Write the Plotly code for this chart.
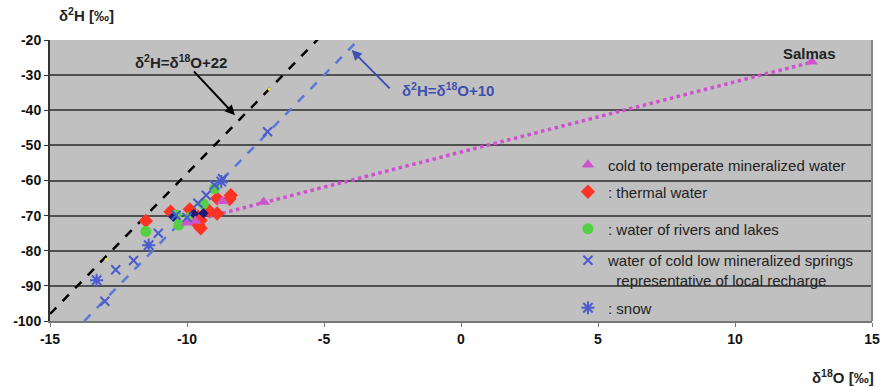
import plotly.graph_objects as go

# Isotope data: delta-18O (x) and delta-2H (y), per mille
cold_mineral_x = [12.8, -7.2, -8.7, -10.0, -9.7]
cold_mineral_y = [-26.2, -66.1, -65.9, -72.0, -71.5]

thermal_x = [-11.5, -10.6, -9.9, -8.9, -8.4, -8.45, -9.2, -8.9, -9.5, -9.5, -9.6, -9.6]
thermal_y = [-71.5, -68.9, -68.2, -65.1, -64.2, -65.3, -68.6, -69.4, -71.3, -73.6, -72.6, -70.3]

rivers_x = [-11.5, -10.4, -10.3, -9.4, -9.0, -9.9]
rivers_y = [-74.5, -69.8, -72.7, -66.7, -62.3, -70.5]

springs_x = [-7.06, -8.7, -9.0, -9.3, -9.6, -10.4, -11.05, -11.95, -12.6, -13.0, -10.0]
springs_y = [-46.1, -59.5, -61.3, -64.2, -66.5, -69.9, -75.0, -82.8, -85.4, -94.4, -70.5]

snow_x = [-13.3, -11.4, -8.75]
snow_y = [-88.4, -78.4, -60.3]

other_x = [-9.4, -10.5, -9.75]
other_y = [-69.3, -70.3, -69.5]

minor_x = [-7.0, -12.95]
minor_y = [-34.0, -82.5]

x_ticks = [-15, -10, -5, 0, 5, 10, 15]
y_ticks = [-100, -90, -80, -70, -60, -50, -40, -30, -20]

# Reference lines: slope 8 with intercepts 22 and 10
lmwl_x = [-15.0, -4.5]
lmwl_y = [8 * v + 22 for v in lmwl_x]
gmwl_x = [-13.75, -3.0]
gmwl_y = [8 * v + 10 for v in gmwl_x]

# Mixing trend towards Salmas
trend_x = [-9.7, 12.8]
trend_y = [-71.3, -26.3]

FONT = "Arial, Liberation Sans, sans-serif"
PINK = "#cc55cc"
RED = "#ff3322"
GREEN = "#55d044"
BLUE = "#4a5ccc"
LABEL_BLUE = "#3d4fb0"

fig = go.Figure()

fig.add_trace(go.Scatter(x=lmwl_x, y=lmwl_y, mode="lines", showlegend=False,
                         line=dict(color="black", width=2.5, dash="dash")))
fig.add_trace(go.Scatter(x=gmwl_x, y=gmwl_y, mode="lines", showlegend=False,
                         line=dict(color="#5a78d8", width=2.5, dash="dash")))
fig.add_trace(go.Scatter(x=trend_x, y=trend_y, mode="lines", showlegend=False,
                         line=dict(color="#d050d0", width=3.5, dash="dot")))

fig.add_trace(go.Scatter(x=minor_x, y=minor_y, mode="markers", showlegend=False,
                         marker=dict(color="#e8e840", size=3)))

fig.add_trace(go.Scatter(x=thermal_x, y=thermal_y, mode="markers", name=": thermal water",
                         legend="legend2",
                         marker=dict(symbol="diamond", color=RED, size=11)))
fig.add_trace(go.Scatter(x=rivers_x, y=rivers_y, mode="markers", name=": water of rivers and lakes",
                         legend="legend3",
                         marker=dict(symbol="circle", color=GREEN, size=11)))
fig.add_trace(go.Scatter(x=other_x, y=other_y, mode="markers", showlegend=False,
                         marker=dict(symbol="diamond", color="#1c1c78", size=8)))
fig.add_trace(go.Scatter(x=cold_mineral_x, y=cold_mineral_y, mode="markers",
                         name="cold to temperate mineralized water", legend="legend",
                         marker=dict(symbol="triangle-up", color=PINK, size=11)))
fig.add_trace(go.Scatter(x=springs_x, y=springs_y, mode="markers",
                         name="water of cold low mineralized springs<br>  representative of local recharge",
                         legend="legend4",
                         marker=dict(symbol="x-thin-open", color=BLUE, size=9,
                                     line=dict(color=BLUE, width=2))))
fig.add_trace(go.Scatter(x=snow_x, y=snow_y, mode="markers", name=": snow", legend="legend5",
                         marker=dict(symbol="asterisk-open", color=BLUE, size=11,
                                     line=dict(color=BLUE, width=2))))

# plot area in pixels: x 50..880, y 40..321
def lx(px):
    return (px - 50) / 830.0

def ly(py):
    return (321 - py) / 281.0

leg_common = dict(bgcolor="rgba(0,0,0,0)", font=dict(family=FONT, size=15, color="#222"),
                  xanchor="left", yanchor="middle", valign="top", itemwidth=30)
fig.update_layout(
    legend=dict(x=lx(573), y=ly(165), **leg_common),
    legend2=dict(x=lx(573), y=ly(192), **leg_common),
    legend3=dict(x=lx(573), y=ly(229), **leg_common),
    legend4=dict(x=lx(573), y=ly(270), **leg_common),
    legend5=dict(x=lx(573), y=ly(308), **leg_common),
)

bold = dict(family=FONT, size=15, color="#222", weight="bold")

fig.add_annotation(x=-8.25, y=-41.4, ax=-9.8, ay=-28.5, xref="x", yref="y", axref="x", ayref="y",
                   text="", showarrow=True, arrowhead=2, arrowsize=1, arrowwidth=2, arrowcolor="black")
fig.add_annotation(x=-3.99, y=-22.85, ax=-2.55, ay=-34.2, xref="x", yref="y", axref="x", ayref="y",
                   text="", showarrow=True, arrowhead=2, arrowsize=1, arrowwidth=2, arrowcolor=LABEL_BLUE)
fig.add_annotation(x=-10.23, y=-26.0, xref="x", yref="y", showarrow=False,
                   text="<b>δ<sup>2</sup>H=δ<sup>18</sup>O+22</b>", font=bold)
fig.add_annotation(x=-2.24, y=-34.2, xref="x", yref="y", showarrow=False, xanchor="left",
                   text="<b>δ<sup>2</sup>H=δ<sup>18</sup>O+10</b>", font=dict(bold, color=LABEL_BLUE))
fig.add_annotation(x=12.73, y=-23.7, xref="x", yref="y", showarrow=False,
                   text="<b>Salmas</b>", font=bold)
fig.add_annotation(x=8 / 891, y=(321 - 14) / 281, xref="paper", yref="paper", showarrow=False,
                   xanchor="left", yanchor="middle", text="<b>δ<sup>2</sup>H [‰]</b>", font=bold)
fig.add_annotation(x=1.005, y=(321 - 376) / 281, xref="paper", yref="paper", showarrow=False,
                   xanchor="right", yanchor="middle", text="<b>δ<sup>18</sup>O [‰]</b>", font=bold)

tickfont = dict(family=FONT, size=14, color="#111", weight="bold")
fig.update_layout(
    width=891, height=390,
    margin=dict(l=50, r=11, t=40, b=69),
    paper_bgcolor="white", plot_bgcolor="#c0c0c0",
    font=dict(family=FONT),
    xaxis=dict(range=[-15, 15], tickvals=x_ticks, ticktext=[f"<b>{v}</b>" for v in x_ticks],
               showgrid=False, zeroline=False, showline=True, linecolor="#777", linewidth=2,
               ticks="outside", ticklen=4, tickcolor="#777", tickfont=tickfont),
    yaxis=dict(range=[-100, -20], tickvals=y_ticks, ticktext=[f"<b>{v}</b>" for v in y_ticks],
               showgrid=True, gridcolor="#505050", gridwidth=1.6,
               zeroline=False, showline=True, linecolor="#333", linewidth=2,
               ticks="outside", ticklen=4, tickcolor="#333", tickfont=tickfont),
    shapes=[dict(type="line", xref="paper", yref="paper", x0=1, x1=1, y0=0, y1=1,
                 line=dict(color="#888", width=2))],
)

fig.write_html("out.html")
